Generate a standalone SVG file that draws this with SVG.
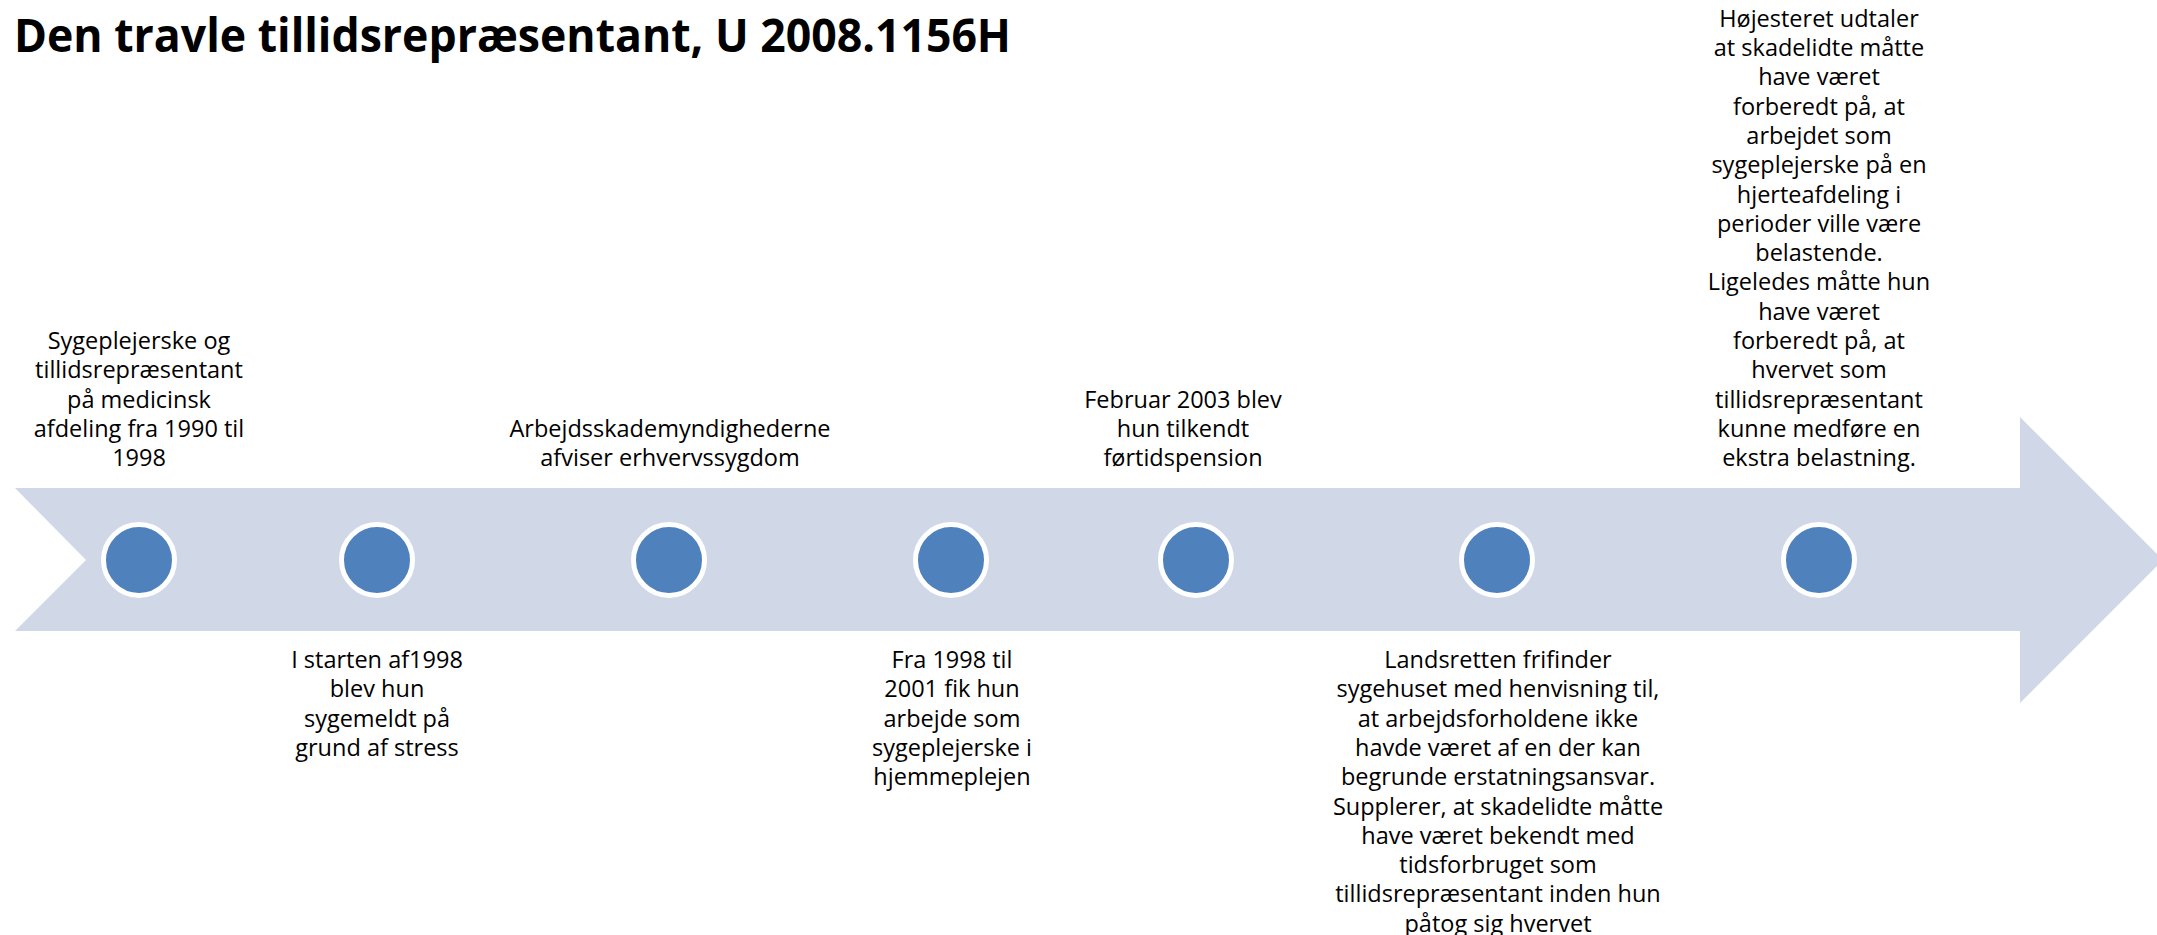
<svg xmlns="http://www.w3.org/2000/svg" width="2157" height="935" viewBox="0 0 2157 935">
<style>
  .bg { fill: #ffffff; }
  .arrow { fill: #D0D8E8; }
  .dot { fill: #4F81BD; stroke: #ffffff; stroke-width: 5; }
  .lbl { font-family: "Open Sans", "Noto Sans", "Liberation Sans", sans-serif; font-size: 23.5px; fill: #000000; text-anchor: middle; }
  .title { font-family: "Open Sans", "Liberation Sans", sans-serif; font-size: 47px; font-weight: bold; fill: #000000; }
</style>
<rect class="bg" x="0" y="0" width="2157" height="935"/>
<text class="title" x="14" y="52" textLength="997" lengthAdjust="spacingAndGlyphs">Den travle tillidsrepræsentant, U 2008.1156H</text>
<g id="connectors">
  <path id="timeline-arrow" class="arrow" d="M15,488 L2020,488 L2020,417 L2163,560 L2020,703 L2020,631 L15,631 L86,560 Z"/>
</g>
<g id="event1">
  <circle class="dot" cx="139" cy="560" r="35.5"/>
  <text class="lbl"><tspan x="139" y="349">Sygeplejerske og</tspan><tspan x="139" y="378.3">tillidsrepræsentant</tspan><tspan x="139" y="407.6">på medicinsk</tspan><tspan x="139" y="436.9">afdeling fra 1990 til</tspan><tspan x="139" y="466.2">1998</tspan></text>
</g>
<g id="event2">
  <circle class="dot" cx="377" cy="560" r="35.5"/>
  <text class="lbl"><tspan x="377" y="668">I starten af1998</tspan><tspan x="377" y="697.3">blev hun</tspan><tspan x="377" y="726.6">sygemeldt på</tspan><tspan x="377" y="755.9">grund af stress</tspan></text>
</g>
<g id="event3">
  <circle class="dot" cx="669" cy="560" r="35.5"/>
  <text class="lbl"><tspan x="670" y="436.9">Arbejdsskademyndighederne</tspan><tspan x="670" y="466.2">afviser erhvervssygdom</tspan></text>
</g>
<g id="event4">
  <circle class="dot" cx="951" cy="560" r="35.5"/>
  <text class="lbl"><tspan x="952" y="668">Fra 1998 til</tspan><tspan x="952" y="697.3">2001 fik hun</tspan><tspan x="952" y="726.6">arbejde som</tspan><tspan x="952" y="755.9">sygeplejerske i</tspan><tspan x="952" y="785.2">hjemmeplejen</tspan></text>
</g>
<g id="event5">
  <circle class="dot" cx="1196" cy="560" r="35.5"/>
  <text class="lbl"><tspan x="1183" y="407.6">Februar 2003 blev</tspan><tspan x="1183" y="436.9">hun tilkendt</tspan><tspan x="1183" y="466.2">førtidspension</tspan></text>
</g>
<g id="event6">
  <circle class="dot" cx="1497" cy="560" r="35.5"/>
  <text class="lbl"><tspan x="1498" y="668">Landsretten frifinder</tspan><tspan x="1498" y="697.3">sygehuset med henvisning til,</tspan><tspan x="1498" y="726.6">at arbejdsforholdene ikke</tspan><tspan x="1498" y="755.9">havde været af en der kan</tspan><tspan x="1498" y="785.2">begrunde erstatningsansvar.</tspan><tspan x="1498" y="814.5">Supplerer, at skadelidte måtte</tspan><tspan x="1498" y="843.8">have været bekendt med</tspan><tspan x="1498" y="873.1">tidsforbruget som</tspan><tspan x="1498" y="902.4">tillidsrepræsentant inden hun</tspan><tspan x="1498" y="931.7">påtog sig hvervet</tspan></text>
</g>
<g id="event7">
  <circle class="dot" cx="1819" cy="560" r="35.5"/>
  <text class="lbl"><tspan x="1819" y="26.7">Højesteret udtaler</tspan><tspan x="1819" y="56">at skadelidte måtte</tspan><tspan x="1819" y="85.3">have været</tspan><tspan x="1819" y="114.6">forberedt på, at</tspan><tspan x="1819" y="143.9">arbejdet som</tspan><tspan x="1819" y="173.2">sygeplejerske på en</tspan><tspan x="1819" y="202.5">hjerteafdeling i</tspan><tspan x="1819" y="231.8">perioder ville være</tspan><tspan x="1819" y="261.1">belastende.</tspan><tspan x="1819" y="290.4">Ligeledes måtte hun</tspan><tspan x="1819" y="319.7">have været</tspan><tspan x="1819" y="349">forberedt på, at</tspan><tspan x="1819" y="378.3">hvervet som</tspan><tspan x="1819" y="407.6">tillidsrepræsentant</tspan><tspan x="1819" y="436.9">kunne medføre en</tspan><tspan x="1819" y="466.2">ekstra belastning.</tspan></text>
</g>
</svg>
